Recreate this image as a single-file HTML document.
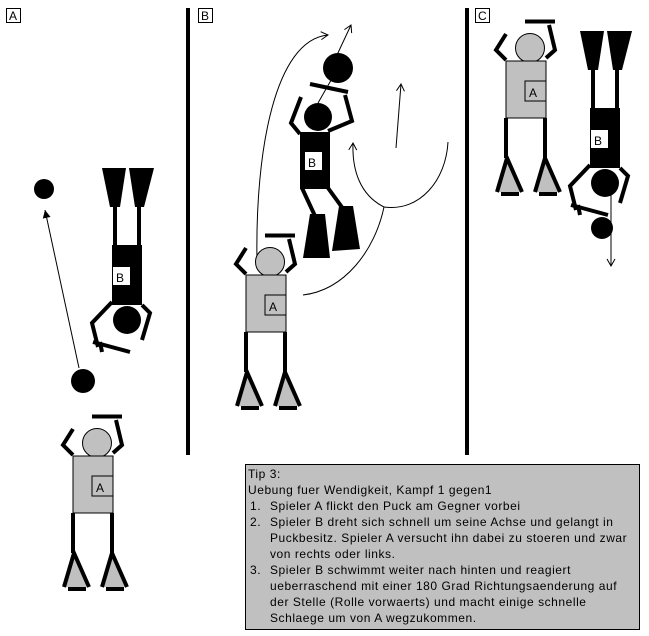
<!DOCTYPE html>
<html><head><meta charset="utf-8"><style>
body{margin:0;background:#fff;width:649px;height:636px;overflow:hidden;position:relative;font-family:"Liberation Sans",sans-serif}
.tb{position:absolute;left:245px;top:464px;width:395px;height:166px;background:#c0c0c0;border:1px solid #000;box-sizing:border-box;font-size:12px;line-height:16px;padding:1px 2px;white-space:nowrap;letter-spacing:0.55px}
.tb ol{margin:0;padding-left:0;list-style:none}
.tb li{position:relative;padding-left:22px}
.tb li span{position:absolute;left:2px}
</style></head><body>
<svg width="649" height="636" style="position:absolute;left:0;top:0">
<defs>
<marker id="ar" markerWidth="10" markerHeight="10" refX="8" refY="5" orient="auto" markerUnits="userSpaceOnUse"><path d="M1,1 L8,5 L1,9" fill="none" stroke="#000" stroke-width="1"/></marker>
<marker id="at" markerWidth="10" markerHeight="10" refX="8" refY="5" orient="auto" markerUnits="userSpaceOnUse"><path d="M0,1 L8,5 L0,9 Z" fill="#000"/></marker>
<g id="A">
<polyline points="-24,12 -34,2 -24,-14" fill="none" stroke="#000" stroke-width="4"/>
<polyline points="16,10 25,2 19,-23" fill="none" stroke="#000" stroke-width="4"/>
<line x1="-5" y1="-26.5" x2="25" y2="-26.5" stroke="#000" stroke-width="4"/>
<circle cx="0" cy="0" r="14.5" fill="#c0c0c0" stroke="#000" stroke-width="1"/>
<line x1="-24" y1="70" x2="-24" y2="110" stroke="#000" stroke-width="4"/>
<line x1="15" y1="70" x2="15" y2="110" stroke="#000" stroke-width="4"/>
<polygon points="-23,110 -33,144 -8,144" fill="#c0c0c0"/>
<polyline points="-33,144 -23,110 -8,144" fill="none" stroke="#000" stroke-width="4"/>
<polygon points="15,110 5,144 30,144" fill="#c0c0c0"/>
<polyline points="5,144 15,110 30,144" fill="none" stroke="#000" stroke-width="4"/>
<line x1="-29" y1="146" x2="-11" y2="146" stroke="#000" stroke-width="4"/>
<line x1="9" y1="146" x2="27" y2="146" stroke="#000" stroke-width="4"/>
<rect x="-24" y="13" width="40" height="57" fill="#c0c0c0" stroke="#000" stroke-width="1"/>
<rect x="-5" y="33" width="21" height="20" fill="#c0c0c0" stroke="#000" stroke-width="1"/>
<text x="-1" y="49" font-size="12" font-family="Liberation Sans">A</text>
</g>
<g id="B">
<polyline points="-15,-18 -35,3 -29,27" fill="none" stroke="#000" stroke-width="4"/>
<line x1="-34" y1="22" x2="3" y2="32" stroke="#000" stroke-width="4"/>
<line x1="-27" y1="22" x2="-25" y2="32" stroke="#000" stroke-width="4"/>
<polyline points="15,-15 23,-7 15,20" fill="none" stroke="#000" stroke-width="4"/>
<circle cx="0" cy="0" r="14" fill="#000"/>
<rect x="-15" y="-75" width="30" height="60" fill="#000"/>
<rect x="-14" y="-53" width="17" height="18" fill="#fff"/>
<text x="-11" y="-38" font-size="12" font-family="Liberation Sans">B</text>
<line x1="-12" y1="-75" x2="-12" y2="-115" stroke="#000" stroke-width="4"/>
<line x1="12" y1="-75" x2="12" y2="-115" stroke="#000" stroke-width="4"/>
<polygon points="-25,-152 -1,-152 -7,-113 -17,-113" fill="#000"/>
<polygon points="2,-152 27,-152 17,-113 8,-113" fill="#000"/>
</g>
</defs>
<g font-size="12" font-family="Liberation Sans">
<rect x="6.5" y="8.5" width="14" height="14" fill="#fff" stroke="#000"/><text x="9" y="20">A</text>
<rect x="198.5" y="8.5" width="14" height="14" fill="#fff" stroke="#000"/><text x="201" y="20">B</text>
<rect x="475.5" y="8.5" width="14" height="14" fill="#fff" stroke="#000"/><text x="478" y="20">C</text>
</g>
<line x1="188" y1="8" x2="188" y2="455" stroke="#000" stroke-width="4"/>
<line x1="467" y1="8" x2="467" y2="455" stroke="#000" stroke-width="4"/>
<circle cx="44" cy="189" r="10" fill="#000"/>
<circle cx="83" cy="381" r="12" fill="#000"/>
<line x1="79" y1="368" x2="45" y2="210" stroke="#000" marker-end="url(#at)"/>
<use href="#B" transform="translate(127,320)"/>
<use href="#A" transform="translate(97,443)"/>
<path d="M257,262 C255,150 275,40 328,35" fill="none" stroke="#000" marker-end="url(#ar)"/>
<line x1="337" y1="55" x2="351" y2="25" stroke="#000" marker-end="url(#ar)"/>
<line x1="318" y1="103" x2="334" y2="75" stroke="#000"/>
<g>
<polyline points="300,134 291,123 301,97" fill="none" stroke="#000" stroke-width="4"/>
<polyline points="328,131 352,121 345,95" fill="none" stroke="#000" stroke-width="4"/>
<line x1="310" y1="84" x2="348" y2="92" stroke="#000" stroke-width="4"/>
<circle cx="318" cy="117" r="14" fill="#000"/>
<rect x="300" y="132" width="30" height="57" fill="#000"/>
<rect x="305" y="152" width="17" height="18" fill="#fff"/>
<text x="308" y="167" font-size="12" font-family="Liberation Sans">B</text>
<line x1="302" y1="188" x2="315" y2="216" stroke="#000" stroke-width="4"/>
<line x1="328" y1="188" x2="344" y2="210" stroke="#000" stroke-width="4"/>
<polygon points="310,214 325,214 330,258 303,258" fill="#000"/>
<polygon points="339,206 353,206 360,249 332,251" fill="#000"/>
</g>
<circle cx="338" cy="68" r="15" fill="#000"/>
<path d="M303,295 C345,290 375,250 384,207" fill="none" stroke="#000"/>
<path d="M384,207 C360,195 352,170 353,143" fill="none" stroke="#000" marker-end="url(#ar)"/>
<path d="M448,142 C446,180 420,212 384,207" fill="none" stroke="#000"/>
<line x1="396" y1="148" x2="401" y2="84" stroke="#000" marker-end="url(#ar)"/>
<use href="#A" transform="translate(270,262)"/>
<use href="#A" transform="translate(530,48)"/>
<use href="#B" transform="translate(605,183)"/>
<circle cx="602" cy="228" r="11" fill="#000"/>
<line x1="611" y1="185" x2="611" y2="266" stroke="#000" marker-end="url(#ar)"/>
</svg>
<div class="tb">Tip 3:<br>Uebung fuer Wendigkeit, Kampf 1 gegen1
<ol>
<li><span>1.</span>Spieler A flickt den Puck am Gegner vorbei</li>
<li><span>2.</span>Spieler B dreht sich schnell um seine Achse und gelangt in<br>Puckbesitz. Spieler A versucht ihn dabei zu stoeren und zwar<br>von rechts oder links.</li>
<li><span>3.</span>Spieler B schwimmt weiter nach hinten und reagiert<br>ueberraschend mit einer 180 Grad Richtungsaenderung auf<br>der Stelle (Rolle vorwaerts) und macht einige schnelle<br>Schlaege um von A wegzukommen.</li>
</ol></div>
</body></html>
